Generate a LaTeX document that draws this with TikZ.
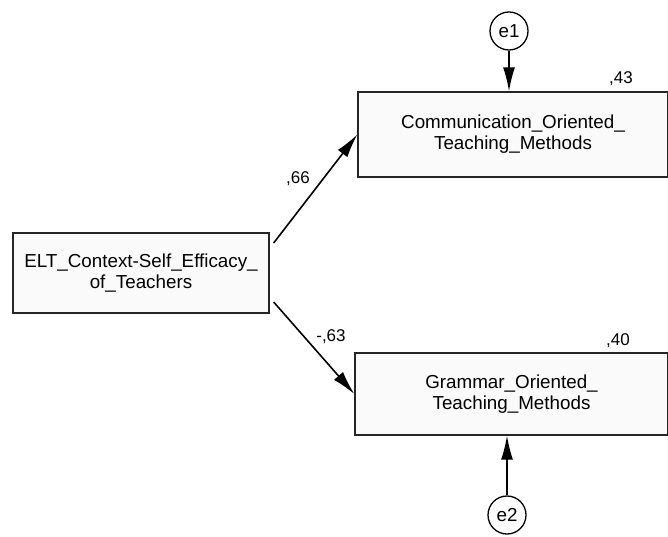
\documentclass[tikz,border=0pt]{standalone}
\usepackage{fontspec}
\setmainfont{Liberation Sans}
\usetikzlibrary{arrows.meta}
\tikzset{
  var/.style={draw=black!85, line width=1.3pt, fill=black!2, rectangle, inner sep=0pt, align=center,
    font=\fontsize{18.8}{21}\selectfont},
  err/.style={draw=black, line width=1.3pt, fill=white, circle, minimum size=38pt, inner sep=0pt,
    font=\fontsize{18.8}{21}\selectfont},
  path/.style={line width=1.6pt, -{Latex[length=24pt,width=12pt]}},
  coef/.style={inner sep=0pt, font=\fontsize{17}{19}\selectfont}
}
\begin{document}
\begin{tikzpicture}[x=1pt,y=-1pt]
\useasboundingbox (0,0) rectangle (668,537);
\node[var, minimum width=256pt, minimum height=80pt] (elt) at (141,273) {ELT\_Context-Self\_Efficacy\_\\of\_Teachers};
\node[var, minimum width=310pt, minimum height=85pt] (comm) at (513,134.5) {Communication\_Oriented\_\\Teaching\_Methods};
\node[var, minimum width=313pt, minimum height=82pt] (gram) at (511.5,394) {Grammar\_Oriented\_\\Teaching\_Methods};
\node[err] (e1) at (509,31) {e1};
\node[err] (e2) at (507,515) {e2};
\draw[path] ([xshift=4pt,yshift=30pt]elt.east) -- (comm.west);
\draw[path] ([xshift=4pt,yshift=-29pt]elt.east) -- (gram.west);
\draw[path] (e1.south) -- (e1.south |- comm.north);
\draw[path] (e2.north) -- (e2.north |- gram.south);
\node[coef] (c66) at (298,179) {,66};
\node[coef] (c63) at (331,337) {-,63};
\node[coef] (c43) at (621,79) {,43};
\node[coef] (c40) at (618,341) {,40};
\end{tikzpicture}
\end{document}
